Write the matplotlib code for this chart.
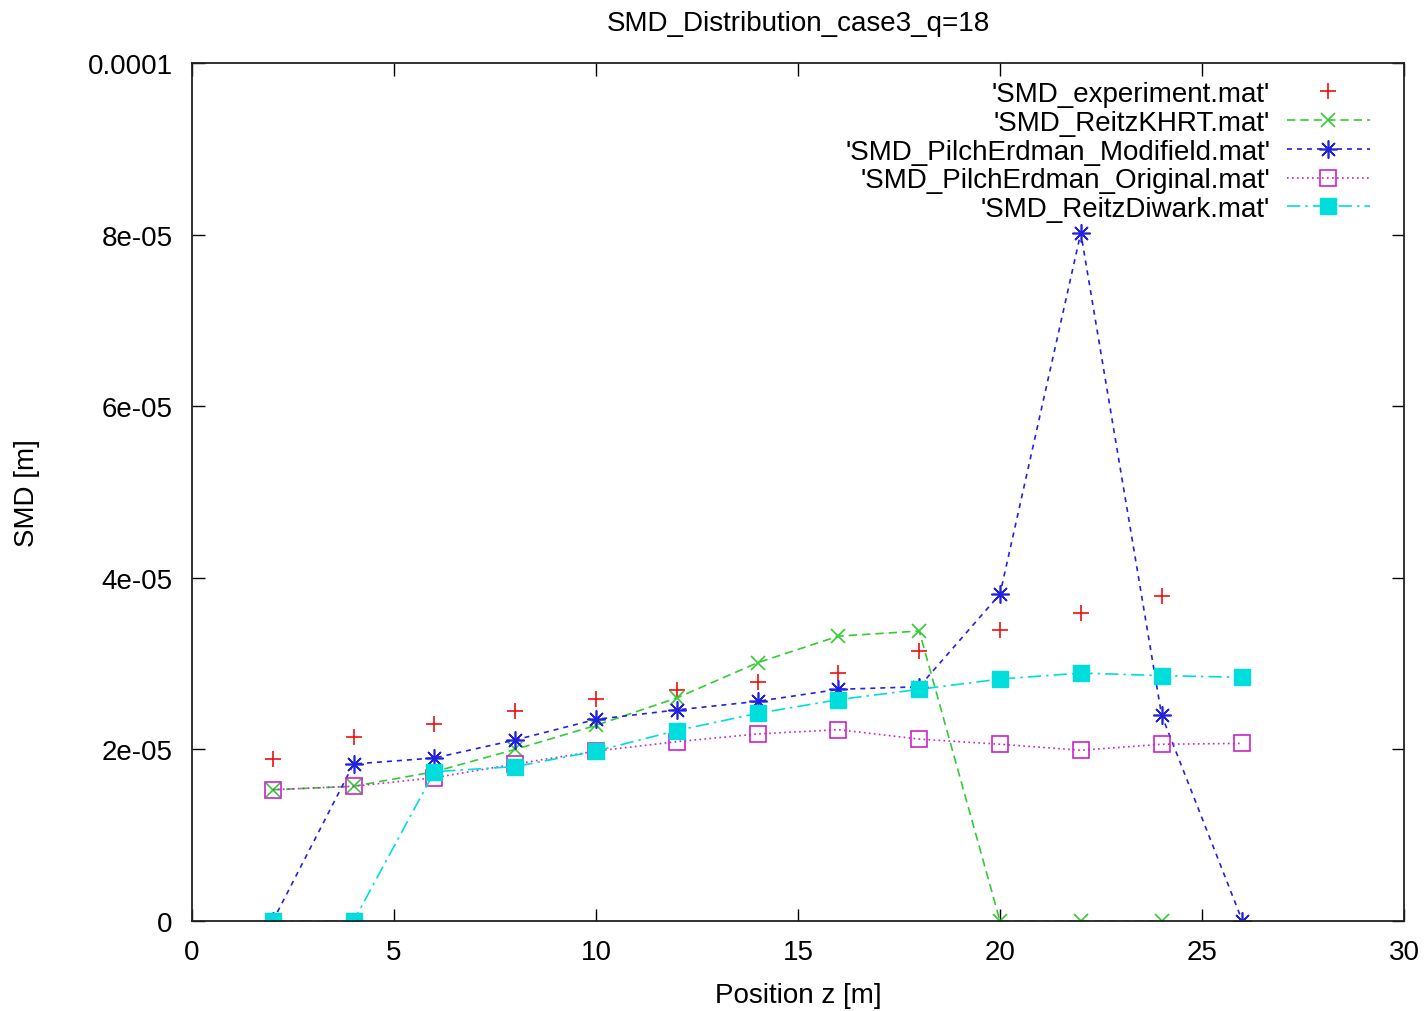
import matplotlib
matplotlib.use("Agg")
import matplotlib.pyplot as plt

plt.rcParams['font.family'] = ['Liberation Sans', 'DejaVu Sans']

title = "SMD_Distribution_case3_q=18"
xlabel = "Position z [m]"
ylabel = "SMD [m]"

z_exp = [2, 4, 6, 8, 10, 12, 14, 16, 18, 20, 22, 24]
smd_exp = [18.9e-6, 21.4e-6, 23.0e-6, 24.5e-6, 25.9e-6, 26.9e-6, 27.9e-6, 28.9e-6,
           31.5e-6, 33.9e-6, 35.9e-6, 37.9e-6]

z_khrt = [2, 4, 6, 8, 10, 12, 14, 16, 18, 20, 22, 24]
smd_khrt = [15.3e-6, 15.7e-6, 17.4e-6, 20.0e-6, 22.8e-6, 26.0e-6, 30.1e-6, 33.2e-6,
            33.8e-6, 0.0, 0.0, 0.0]

z_pem = [2, 4, 6, 8, 10, 12, 14, 16, 18, 20, 22, 24, 26]
smd_pem = [0.0, 18.3e-6, 19.0e-6, 21.1e-6, 23.5e-6, 24.6e-6, 25.6e-6, 27.0e-6,
           27.3e-6, 38.1e-6, 80.2e-6, 24.0e-6, 0.0]

z_peo = [2, 4, 6, 8, 10, 12, 14, 16, 18, 20, 22, 24, 26]
smd_peo = [15.3e-6, 15.7e-6, 16.7e-6, 18.3e-6, 19.8e-6, 20.9e-6, 21.8e-6, 22.3e-6,
           21.2e-6, 20.6e-6, 19.9e-6, 20.6e-6, 20.7e-6]

z_rd = [2, 4, 6, 8, 10, 12, 14, 16, 18, 20, 22, 24, 26]
smd_rd = [0.0, 0.0, 17.4e-6, 18.0e-6, 19.8e-6, 22.2e-6, 24.2e-6, 25.8e-6,
          27.0e-6, 28.2e-6, 28.9e-6, 28.6e-6, 28.4e-6]

labels = ["'SMD_experiment.mat'", "'SMD_ReitzKHRT.mat'",
          "'SMD_PilchErdman_Modifield.mat'", "'SMD_PilchErdman_Original.mat'",
          "'SMD_ReitzDiwark.mat'"]

xticks = [0, 5, 10, 15, 20, 25, 30]
yticks = [0, 2e-05, 4e-05, 6e-05, 8e-05, 1e-04]
ytick_labels = ["0", "2e-05", "4e-05", "6e-05", "8e-05", "0.0001"]

fig = plt.figure(figsize=(14.28, 10.12), dpi=100)
ax = fig.add_axes([192/1428, 1-922/1012, 1212/1428, 858/1012])

fs = 20
lw = 1.2

ax.plot(z_exp, smd_exp, linestyle='none', marker='+', ms=12, mew=1.2,
        color='#ee1111', label=labels[0])
ax.plot(z_khrt, smd_khrt, linestyle=(0, (5, 3)), lw=lw, marker='x', ms=10, mew=1.2,
        color='#33cc33', label=labels[1])
ax.plot(z_pem, smd_pem, linestyle=(0, (3, 3)), lw=lw, marker=(8, 2, 0), ms=13, mew=1.2,
        color='#2222dd', label=labels[2])
ax.plot(z_peo, smd_peo, linestyle=(0, (1, 2)), lw=lw, marker='s', ms=11, mew=1.2,
        mfc='none', color='#cc22cc', label=labels[3])
ax.plot(z_rd, smd_rd, linestyle=(0, (8, 3, 1.5, 3)), lw=lw, marker='s', ms=11,
        color='#00dddd', label=labels[4])

ax.set_xlim(0, 30)
ax.set_ylim(0, 1e-4)
ax.set_xticks(xticks)
ax.set_xticklabels([str(t) for t in xticks])
ax.set_yticks(yticks)
ax.set_yticklabels(ytick_labels)
ax.tick_params(direction='in', length=9, width=1, labelsize=fs,
               top=True, right=True)
ax.tick_params(axis='x', pad=13)
ax.tick_params(axis='y', pad=14)
for s in ax.spines.values():
    s.set_linewidth(1.3)
    s.set_color('#222222')

ax.set_title(title, fontsize=fs, pad=24)
ax.set_xlabel(xlabel, fontsize=fs, labelpad=12)
ax.set_ylabel(ylabel, fontsize=fs, labelpad=34)

leg = ax.legend(loc='upper right', bbox_to_anchor=(0.972, 0.979), frameon=False,
                markerfirst=False, fontsize=fs, handlelength=3.0, handletextpad=0.6,
                labelspacing=0.1, borderpad=0, borderaxespad=0)

fig.savefig("out.png", dpi=100)
